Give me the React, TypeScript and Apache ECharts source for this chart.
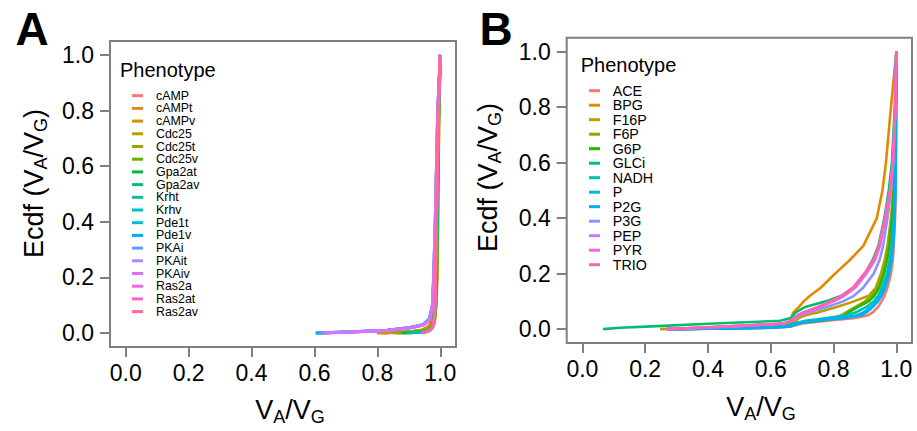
import React, { useEffect, useRef } from "react";
import * as echarts from "echarts";

// ---------- Panel A data (ECDF: x value reached at each cumulative level) ----------
const P_A = [0, 0.005, 0.01, 0.02, 0.03, 0.05, 0.1, 0.2, 0.4, 0.6, 0.8, 1.0];
const NAMES_A = ["cAMP", "cAMPt", "cAMPv", "Cdc25", "Cdc25t", "Cdc25v", "Gpa2at", "Gpa2av", "Krht", "Krhv", "Pde1t", "Pde1v", "PKAi", "PKAit", "PKAiv", "Ras2a", "Ras2at", "Ras2av"];
const A_cAMP = [0.82, 0.91, 0.945, 0.962, 0.969, 0.975, 0.98, 0.983, 0.987, 0.99, 0.994, 1.0];
const A_cAMPt = [0.798, 0.9, 0.94, 0.958, 0.966, 0.972, 0.978, 0.982, 0.986, 0.99, 0.994, 1.0];
const A_cAMPv = [0.81, 0.905, 0.942, 0.96, 0.968, 0.974, 0.979, 0.983, 0.987, 0.99, 0.994, 1.0];
const A_Cdc25 = [0.86, 0.935, 0.958, 0.971, 0.978, 0.983, 0.987, 0.99, 0.992, 0.994, 0.996, 1.0];
const A_Cdc25t = [0.85, 0.93, 0.955, 0.97, 0.977, 0.982, 0.986, 0.989, 0.992, 0.994, 0.996, 1.0];
const A_Cdc25v = [0.87, 0.94, 0.96, 0.972, 0.978, 0.982, 0.986, 0.989, 0.991, 0.993, 0.995, 1.0];
const A_Gpa2at = [0.88, 0.945, 0.962, 0.972, 0.977, 0.981, 0.985, 0.988, 0.99, 0.993, 0.995, 1.0];
const A_Gpa2av = [0.89, 0.948, 0.964, 0.972, 0.976, 0.98, 0.984, 0.987, 0.99, 0.992, 0.995, 1.0];
const A_Krht = [0.9, 0.95, 0.965, 0.972, 0.976, 0.979, 0.982, 0.985, 0.988, 0.991, 0.994, 1.0];
const A_Krhv = [0.61, 0.73, 0.835, 0.908, 0.946, 0.965, 0.975, 0.979, 0.984, 0.988, 0.992, 1.0];
const A_Pde1t = [0.603, 0.72, 0.83, 0.905, 0.945, 0.965, 0.976, 0.98, 0.985, 0.989, 0.993, 1.0];
const A_Pde1v = [0.606, 0.725, 0.832, 0.906, 0.946, 0.966, 0.976, 0.98, 0.985, 0.989, 0.993, 1.0];
const A_PKAi = [0.615, 0.73, 0.836, 0.908, 0.947, 0.966, 0.975, 0.979, 0.984, 0.988, 0.992, 1.0];
const A_PKAit = [0.628, 0.74, 0.84, 0.91, 0.948, 0.966, 0.975, 0.979, 0.984, 0.988, 0.992, 1.0];
const A_PKAiv = [0.63, 0.745, 0.842, 0.91, 0.949, 0.967, 0.975, 0.979, 0.984, 0.988, 0.992, 1.0];
const A_Ras2a = [0.94, 0.955, 0.966, 0.975, 0.978, 0.981, 0.983, 0.985, 0.988, 0.991, 0.994, 1.0];
const A_Ras2at = [0.944, 0.957, 0.967, 0.975, 0.979, 0.981, 0.983, 0.985, 0.988, 0.991, 0.994, 1.0];
const A_Ras2av = [0.946, 0.958, 0.968, 0.976, 0.979, 0.981, 0.983, 0.985, 0.988, 0.991, 0.994, 1.0];
const X_A = [A_cAMP, A_cAMPt, A_cAMPv, A_Cdc25, A_Cdc25t, A_Cdc25v, A_Gpa2at, A_Gpa2av, A_Krht, A_Krhv, A_Pde1t, A_Pde1v, A_PKAi, A_PKAit, A_PKAiv, A_Ras2a, A_Ras2at, A_Ras2av];

// ---------- Panel B data ----------
const P_B = [0, 0.005, 0.01, 0.02, 0.03, 0.04, 0.05, 0.06, 0.08, 0.1, 0.12, 0.15, 0.2, 0.25, 0.3, 0.4, 0.5, 0.6, 0.8, 1.0];
const NAMES_B = ["ACE", "BPG", "F16P", "F6P", "G6P", "GLCi", "NADH", "P", "P2G", "P3G", "PEP", "PYR", "TRIO"];
const B_ACE = [0.3, 0.62, 0.667, 0.7, 0.78, 0.87, 0.91, 0.925, 0.942, 0.953, 0.962, 0.972, 0.983, 0.989, 0.992, 0.996, 0.998, 0.999, 1.0, 1.0];
const B_BPG = [0.27, 0.45, 0.56, 0.655, 0.664, 0.666, 0.668, 0.672, 0.69, 0.705, 0.725, 0.76, 0.805, 0.853, 0.895, 0.938, 0.956, 0.967, 0.983, 1.0];
const B_F16P = [0.247, 0.42, 0.55, 0.665, 0.68, 0.69, 0.71, 0.75, 0.81, 0.865, 0.912, 0.935, 0.951, 0.963, 0.972, 0.983, 0.99, 0.994, 0.998, 1.0];
const B_F6P = [0.28, 0.52, 0.61, 0.672, 0.73, 0.8, 0.825, 0.84, 0.87, 0.9, 0.922, 0.94, 0.957, 0.968, 0.975, 0.985, 0.991, 0.994, 0.998, 1.0];
const B_G6P = [0.3, 0.55, 0.62, 0.675, 0.76, 0.82, 0.838, 0.848, 0.878, 0.912, 0.93, 0.946, 0.961, 0.971, 0.978, 0.987, 0.992, 0.995, 0.998, 1.0];
const B_GLCi = [0.066, 0.12, 0.22, 0.42, 0.63, 0.665, 0.672, 0.68, 0.71, 0.775, 0.825, 0.865, 0.9, 0.925, 0.943, 0.962, 0.976, 0.986, 0.995, 1.0];
const B_NADH = [0.27, 0.58, 0.645, 0.675, 0.71, 0.78, 0.84, 0.87, 0.905, 0.928, 0.942, 0.955, 0.97, 0.979, 0.985, 0.992, 0.995, 0.997, 0.999, 1.0];
const B_P = [0.29, 0.6, 0.665, 0.69, 0.74, 0.84, 0.89, 0.905, 0.925, 0.942, 0.953, 0.965, 0.977, 0.985, 0.99, 0.995, 0.997, 0.998, 0.999, 1.0];
const B_P2G = [0.28, 0.59, 0.66, 0.685, 0.73, 0.82, 0.875, 0.895, 0.92, 0.938, 0.95, 0.962, 0.975, 0.983, 0.988, 0.994, 0.997, 0.998, 0.999, 1.0];
const B_P3G = [0.27, 0.38, 0.48, 0.645, 0.668, 0.68, 0.695, 0.72, 0.78, 0.83, 0.865, 0.895, 0.928, 0.947, 0.958, 0.972, 0.983, 0.99, 0.997, 1.0];
const B_PEP = [0.268, 0.37, 0.47, 0.645, 0.668, 0.675, 0.69, 0.71, 0.76, 0.8, 0.835, 0.87, 0.905, 0.933, 0.948, 0.966, 0.982, 0.99, 0.997, 1.0];
const B_PYR = [0.27, 0.37, 0.47, 0.642, 0.667, 0.674, 0.688, 0.705, 0.755, 0.795, 0.83, 0.866, 0.9, 0.93, 0.946, 0.965, 0.981, 0.989, 0.997, 1.0];
const B_TRIO = [0.268, 0.368, 0.468, 0.64, 0.666, 0.673, 0.686, 0.703, 0.75, 0.79, 0.825, 0.862, 0.898, 0.928, 0.945, 0.964, 0.98, 0.989, 0.997, 1.0];
const X_B = [B_ACE, B_BPG, B_F16P, B_F6P, B_G6P, B_GLCi, B_NADH, B_P, B_P2G, B_P3G, B_PEP, B_PYR, B_TRIO];

const TICKS = [0, 0.2, 0.4, 0.6, 0.8, 1.0];

const FONT = "'Liberation Sans', Arial, Helvetica, sans-serif";
const GRAY = "#7f7f7f";

// ggplot-like hue palette (HCL, c=100, l=65)
function hcl(h: number, c: number, l: number): string {
  const hr = (h * Math.PI) / 180;
  const L = l, U = c * Math.cos(hr), V = c * Math.sin(hr);
  const WU = 0.1978398, WV = 0.4683363;
  const Y = 100 * (L > 7.999592 ? Math.pow((L + 16) / 116, 3) : L / 903.3);
  const u = U / (13 * L) + WU;
  const v = V / (13 * L) + WV;
  const X = (9 * Y * u) / (4 * v);
  const Z = -X / 3 - 5 * Y + (3 * Y) / v;
  const g = (x: number) => {
    x = x / 100;
    const r = x > 0.00304 ? 1.055 * Math.pow(x, 1 / 2.4) - 0.055 : 12.92 * x;
    return Math.max(0, Math.min(1, r));
  };
  const R = g(3.240479 * X - 1.53715 * Y - 0.498535 * Z);
  const G = g(-0.969256 * X + 1.875992 * Y + 0.041556 * Z);
  const B = g(0.055648 * X - 0.204043 * Y + 1.057311 * Z);
  const hx = (x: number) => Math.round(x * 255).toString(16).padStart(2, "0");
  return "#" + hx(R) + hx(G) + hx(B);
}
function huePal(n: number): string[] {
  const out: string[] = [];
  for (let i = 0; i < n; i++) out.push(hcl((15 + (360 * i) / n) % 360, 100, 65));
  return out;
}

function axisPair(gridIndex: number) {
  const common = {
    type: "value" as const,
    gridIndex,
    min: -0.05,
    max: 1.05,
    splitLine: { show: false },
    axisLine: { show: false, onZero: false },
    axisTick: { show: true, length: 10, inside: false, customValues: TICKS, lineStyle: { color: GRAY, width: 2 } },
  };
  return {
    x: {
      ...common,
      axisLabel: { customValues: TICKS, formatter: (v: number) => v.toFixed(1), fontSize: 23, color: "#000", margin: 14, fontFamily: FONT },
    },
    y: {
      ...common,
      axisLabel: { customValues: TICKS, formatter: (v: number) => v.toFixed(1), fontSize: 23, color: "#000", margin: 16, fontFamily: FONT },
    },
  };
}

function titleRich() {
  return {
    n: { fontSize: 27, lineHeight: 30, verticalAlign: "top", fontFamily: FONT, fill: "#000" },
    s: { fontSize: 18, lineHeight: 12, verticalAlign: "bottom", fontFamily: FONT, fill: "#000" },
  };
}

export default function App() {
  const ref = useRef<HTMLDivElement>(null);
  useEffect(() => {
    if (!ref.current) return;
    const chart = echarts.init(ref.current, null, { renderer: "svg" });
    const colA = huePal(NAMES_A.length);
    const colB = huePal(NAMES_B.length);
    const aAx = axisPair(0);
    const bAx = axisPair(1);

    const seriesA = NAMES_A.map((name, i) => ({
      type: "line",
      name,
      xAxisIndex: 0,
      yAxisIndex: 0,
      data: X_A[i].map((x, k) => [x, P_A[k]]),
      showSymbol: false,
      symbol: "none",
      color: colA[i],
      lineStyle: { width: 3, color: colA[i] },
      itemStyle: { color: colA[i] },
      silent: true,
    }));
    const seriesB = NAMES_B.map((name, i) => ({
      type: "line",
      name,
      xAxisIndex: 1,
      yAxisIndex: 1,
      data: X_B[i].map((x, k) => [x, P_B[k]]),
      showSymbol: false,
      symbol: "none",
      color: colB[i],
      lineStyle: { width: 2.6, color: colB[i] },
      itemStyle: { color: colB[i] },
      silent: true,
    }));

    const legendCommon = {
      orient: "vertical",
      icon: "rect",
      itemWidth: 11,
      itemHeight: 3,
      itemGap: 0,
      padding: 0,
      selectedMode: false,
    };

    chart.setOption({
      animation: false,
      backgroundColor: "#fff",
      textStyle: { fontFamily: FONT },
      grid: [
        { left: 110, top: 41, width: 346, height: 306, show: true, borderColor: GRAY, borderWidth: 2, backgroundColor: "transparent" },
        { left: 566.7, top: 37.7, width: 345.3, height: 305.3, show: true, borderColor: GRAY, borderWidth: 2, backgroundColor: "transparent" },
      ],
      xAxis: [aAx.x, bAx.x],
      yAxis: [aAx.y, bAx.y],
      legend: [
        {
          ...legendCommon,
          data: NAMES_A,
          left: 132,
          top: 89.35,
          textStyle: { fontSize: 12.4, lineHeight: 12.7, color: "#000", fontFamily: FONT, padding: [0, 0, 0, 8] },
        },
        {
          ...legendCommon,
          data: NAMES_B,
          left: 589,
          top: 83.45,
          textStyle: { fontSize: 14.3, lineHeight: 14.5, color: "#000", fontFamily: FONT, padding: [0, 0, 0, 7.7] },
        },
      ],
      graphic: [
        { type: "text", x: 32, y: 29, style: { text: "A", fontSize: 46, fontWeight: "bold", fontFamily: FONT, fill: "#000", align: "center", verticalAlign: "middle" } },
        { type: "text", x: 496, y: 29, style: { text: "B", fontSize: 46, fontWeight: "bold", fontFamily: FONT, fill: "#000", align: "center", verticalAlign: "middle" } },
        { type: "text", x: 120, y: 70, style: { text: "Phenotype", fontSize: 20, fontFamily: FONT, fill: "#000", align: "left", verticalAlign: "middle" } },
        { type: "text", x: 580.7, y: 65, style: { text: "Phenotype", fontSize: 20, fontFamily: FONT, fill: "#000", align: "left", verticalAlign: "middle" } },
        {
          type: "text", x: 290, y: 411,
          style: { text: "{n|V}{s|A}{n|/V}{s|G}", rich: titleRich(), align: "center", verticalAlign: "middle" },
        },
        {
          type: "text", x: 761, y: 408,
          style: { text: "{n|V}{s|A}{n|/V}{s|G}", rich: titleRich(), align: "center", verticalAlign: "middle" },
        },
        {
          type: "text", x: 35, y: 183.5, rotation: Math.PI / 2,
          style: { text: "{n|Ecdf (V}{s|A}{n|/V}{s|G}{n|)}", rich: titleRich(), align: "center", verticalAlign: "middle" },
        },
        {
          type: "text", x: 489, y: 177.5, rotation: Math.PI / 2,
          style: { text: "{n|Ecdf (V}{s|A}{n|/V}{s|G}{n|)}", rich: titleRich(), align: "center", verticalAlign: "middle" },
        },
      ],
      series: [...seriesA, ...seriesB],
    });
    return () => chart.dispose();
  }, []);
  return <div ref={ref} style={{ position: "absolute", left: 0, top: 0, width: 917, height: 431, background: "#fff" }} />;
}
